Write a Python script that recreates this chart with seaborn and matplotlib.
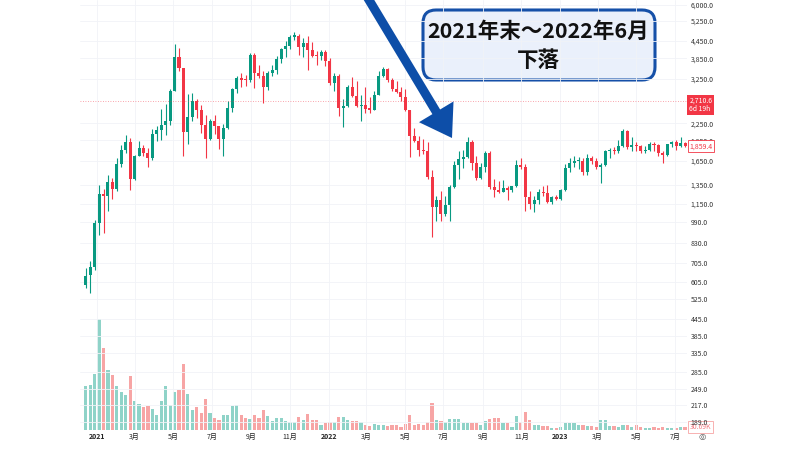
import numpy as np
import pandas as pd
import seaborn as sns
import matplotlib.pyplot as plt
import matplotlib.ticker as mticker
import matplotlib.transforms as mtransforms
from matplotlib.patches import FancyBboxPatch

# weekly candles, Dec 2020 - Jul 2023
weeks = pd.date_range('2020-12-14', periods=136, freq='7D')

opens = [590, 638, 682, 981, 1250, 1230, 1380, 1300, 1604, 1800,
         1930, 1420, 1720, 1830, 1760, 1680, 2050, 2120, 2210, 2300,
         2940, 3900, 3560, 2090, 2370, 2700, 2510, 2220, 1980, 2290,
         2200, 1968, 2170, 2550, 2985, 3270, 3240, 3222, 3963, 3410,
         3330, 3050, 3400, 3500, 3840, 4150, 4270, 4615, 4650, 4245,
         4365, 4120, 3930, 3920, 4050, 3770, 3150, 3330, 2550, 2600,
         3050, 2830, 2590, 2620, 2530, 2520, 2840, 3330, 3520, 3220,
         2980, 2920, 2800, 2510, 2020, 1940, 1800, 1790, 1440, 1122,
         1190, 1063, 1145, 1329, 1591, 1670, 1700, 1930, 1615, 1425,
         1560, 1760, 1329, 1290, 1275, 1310, 1290, 1340, 1590, 1570,
         1217, 1150, 1190, 1275, 1265, 1173, 1215, 1200, 1290, 1550,
         1620, 1640, 1650, 1500, 1680, 1640, 1565, 1590, 1780, 1800,
         1790, 1862, 2115, 1850, 1870, 1862, 1790, 1800, 1895, 1880,
         1755, 1730, 1895, 1930, 1862, 1915]
highs = [677, 715, 1010, 1350, 1300, 1470, 1430, 1690, 1870, 2040,
         1990, 1730, 1940, 1880, 1830, 2150, 2190, 2540, 2640, 2980,
         4340, 4200, 3570, 2870, 2890, 2760, 2620, 2410, 2330, 2410,
         2200, 2240, 2700, 3020, 3330, 3420, 3360, 4020, 4030, 3650,
         3460, 3480, 3650, 3920, 4200, 4460, 4660, 4810, 4700, 4550,
         4650, 4400, 4080, 4130, 4130, 3850, 3410, 3370, 2740, 3090,
         3290, 3200, 2840, 3050, 2800, 2950, 3480, 3580, 3560, 3270,
         3200, 3050, 2980, 2520, 2160, 2020, 1970, 1920, 1530, 1230,
         1280, 1230, 1350, 1650, 1790, 1800, 2010, 1960, 1720, 1620,
         1790, 1790, 1420, 1390, 1400, 1340, 1340, 1660, 1680, 1610,
         1280, 1230, 1300, 1340, 1350, 1230, 1240, 1300, 1600, 1680,
         1720, 1700, 1680, 1740, 1720, 1680, 1620, 1800, 1830, 1840,
         1950, 2140, 2130, 2010, 1930, 1880, 1860, 1930, 1920, 1900,
         1780, 1900, 1940, 1960, 2000, 1920]
lows = [575, 551, 665, 890, 905, 1090, 1200, 1280, 1560, 1760,
        1294, 1410, 1710, 1720, 1560, 1660, 1940, 1950, 2040, 2210,
        2930, 3480, 1720, 1900, 2300, 2340, 2080, 1690, 1960, 2060,
        1820, 1720, 2140, 2470, 2880, 3050, 3060, 3160, 3010, 3270,
        2670, 2960, 3330, 3380, 3700, 3900, 4150, 4500, 3950, 3910,
        3500, 3900, 3650, 3800, 3620, 3100, 2940, 2380, 2180, 2570,
        2800, 2570, 2300, 2450, 2450, 2500, 2840, 3300, 3170, 2950,
        2900, 2700, 2480, 1700, 1930, 1720, 1740, 1420, 878, 1000,
        1000, 1040, 1000, 1310, 1420, 1550, 1680, 1530, 1410, 1420,
        1500, 1300, 1220, 1260, 1270, 1190, 1270, 1330, 1540, 1090,
        1100, 1075, 1150, 1230, 1160, 1150, 1190, 1190, 1280, 1500,
        1560, 1540, 1460, 1470, 1600, 1540, 1370, 1580, 1680, 1740,
        1760, 1850, 1820, 1780, 1780, 1760, 1760, 1780, 1790, 1720,
        1620, 1720, 1840, 1800, 1850, 1850]
closes = [634, 682, 981, 1250, 1230, 1380, 1300, 1600, 1800, 1930,
          1420, 1720, 1830, 1760, 1680, 2050, 2120, 2210, 2300, 2940,
          3900, 3560, 2090, 2370, 2700, 2510, 2220, 1980, 2290, 2200,
          1968, 2170, 2550, 2985, 3270, 3220, 3220, 3963, 3410, 3330,
          3050, 3400, 3500, 3840, 4150, 4270, 4615, 4650, 4245, 4365,
          4120, 3930, 3920, 4050, 3770, 3150, 3330, 2550, 2600, 3050,
          2830, 2590, 2620, 2530, 2520, 2840, 3330, 3520, 3220, 2980,
          2920, 2800, 2510, 2020, 1940, 1800, 1790, 1440, 1122, 1190,
          1063, 1145, 1329, 1591, 1670, 1700, 1930, 1615, 1425, 1560,
          1760, 1329, 1290, 1275, 1310, 1290, 1340, 1590, 1570, 1217,
          1150, 1190, 1275, 1265, 1173, 1215, 1200, 1290, 1550, 1620,
          1640, 1650, 1500, 1680, 1640, 1565, 1590, 1780, 1800, 1790,
          1862, 2115, 1850, 1870, 1862, 1790, 1800, 1895, 1880, 1755,
          1730, 1895, 1930, 1862, 1915, 1859.4]
# volume in thousands
volumes_k = [440, 450, 560, 1110, 820, 600, 550, 440, 380, 350,
             540, 290, 260, 230, 240, 210, 150, 290, 440, 250,
             380, 400, 660, 360, 200, 230, 170, 310, 170, 120,
             100, 150, 150, 240, 250, 150, 120, 110, 150, 120,
             200, 140, 90, 120, 120, 90, 80, 80, 130, 100,
             160, 100, 100, 50, 70, 80, 80, 130, 130, 100,
             90, 90, 80, 50, 40, 60, 50, 50, 40, 50,
             50, 30, 60, 150, 50, 60, 50, 80, 270, 100,
             90, 80, 110, 110, 110, 70, 70, 70, 70, 50,
             90, 110, 120, 120, 70, 70, 30, 140, 80, 180,
             100, 50, 50, 40, 40, 20, 20, 30, 70, 70,
             70, 50, 50, 40, 40, 30, 100, 100, 40, 40,
             30, 50, 50, 30, 50, 30, 20, 20, 30, 20,
             30, 20, 20, 20, 30, 30.69]

price_ticks = [6000, 5250, 4450, 3850, 3250, 2250, 1950, 1650, 1350, 1150, 990,
               830, 705, 605, 525, 445, 385, 335, 285, 249, 217, 189]
month_dates = ['2021-01-01', '2021-03-01', '2021-05-01', '2021-07-01', '2021-09-01',
               '2021-11-01', '2022-01-01', '2022-03-01', '2022-05-01', '2022-07-01',
               '2022-09-01', '2022-11-01', '2023-01-01', '2023-03-01', '2023-05-01',
               '2023-07-01']
month_labels = ['2021', '3月', '5月', '7月', '9月', '11月', '2022', '3月', '5月', '7月',
                '9月', '11月', '2023', '3月', '5月', '7月']

ref_price = 2710.6
last_price = 1859.4
last_volume = 30.69
title_lines = ['2021年末～2022年6月', '下落']

UP = '#089981'
DOWN = '#f23645'

sns.set_theme(style='white')
plt.rcParams['font.family'] = ['Noto Sans CJK JP', 'DejaVu Sans']

df = pd.DataFrame({'week': weeks, 'open': opens, 'high': highs, 'low': lows,
                   'close': closes, 'volume': volumes_k})
df['x'] = np.arange(len(df))
df['dir'] = np.where(df['close'] >= df['open'], 'up', 'down')
colors = np.where(df['dir'] == 'up', UP, DOWN)

fig = plt.figure(figsize=(8, 4.5), dpi=100)
ax = fig.add_axes([80 / 800, 20 / 450, (687.3 - 80) / 800, 430 / 450])
axv = ax.twinx()
ax.set_zorder(axv.get_zorder() + 1)
ax.patch.set_visible(False)

# volume bars
sns.barplot(data=df, x='x', y='volume', hue='dir', native_scale=True, dodge=False,
            palette={'up': '#8fd3c8', 'down': '#f7a5a5'}, width=0.72, saturation=1,
            errorbar=None, legend=False, linewidth=0, ax=axv)
axv.set_ylim(0, 4300)
axv.set_yticks([])
axv.set_ylabel('')

# candles
ax.vlines(df['x'], df['low'], df['high'], colors=colors, lw=0.8)
bottom = np.minimum(df['open'], df['close'])
top = np.maximum(np.maximum(df['open'], df['close']), bottom * 1.009)
ax.bar(df['x'], top - bottom, bottom=bottom, width=0.68, color=colors, linewidth=0)

ax.set_yscale('log')
ax.set_ylim(176.6, 6250)
ax.set_xlim(-1.3, 135.5)
ax.yaxis.tick_right()
ax.set_yticks(price_ticks, labels=[f'{v:,.1f}' for v in price_ticks])
ax.yaxis.set_minor_locator(mticker.NullLocator())
ax.tick_params(axis='y', length=0, pad=2.5, labelsize=5, labelcolor='#333333')

xpos = (pd.to_datetime(month_dates) - weeks[0]).days / 7
ax.set_xticks(xpos, labels=month_labels)
ax.tick_params(axis='x', length=0, pad=2, labelsize=5, labelcolor='#222222')
for lab in ax.get_xticklabels():
    if lab.get_text().isdigit():
        lab.set_fontweight('bold')
ax.set_xlabel('')
axv.set_xlabel('')

ax.grid(True, color='#f1f3f7', lw=0.6)
ax.set_axisbelow(True)
for a in (ax, axv):
    for s in a.spines.values():
        s.set_visible(False)

# price lines and labels
ax.axhline(ref_price, color=DOWN, ls=(0, (1, 2)), lw=0.6, alpha=0.6)
tr = mtransforms.blended_transform_factory(ax.transAxes, ax.transData)
ax.annotate(f'{ref_price:,.1f}\n6d 19h', xy=(1, ref_price), xycoords=tr,
            xytext=(1.5, -3), textcoords='offset points', ha='left', va='center',
            fontsize=5, color='white', linespacing=1.1, annotation_clip=False,
            bbox=dict(boxstyle='square,pad=0.3', fc=DOWN, ec='none'))
ax.annotate(f'{last_price:,.1f}', xy=(1, last_price), xycoords=tr,
            xytext=(1.5, 0), textcoords='offset points', ha='left', va='center',
            fontsize=5, color=DOWN, annotation_clip=False,
            bbox=dict(boxstyle='square,pad=0.25', fc='white', ec=DOWN, lw=0.6))
trv = mtransforms.blended_transform_factory(axv.transAxes, axv.transData)
axv.annotate(f'{last_volume:.2f}K', xy=(1, last_volume), xycoords=trv,
             xytext=(1.5, 0), textcoords='offset points', ha='left', va='center',
             fontsize=5, color='#f07c84', annotation_clip=False,
             bbox=dict(boxstyle='square,pad=0.25', fc='white', ec='#f7a5a5', lw=0.6))
fig.text(702 / 800, 1 - 437 / 450, '◎', fontsize=6, color='#555555',
         ha='center', va='center', family='DejaVu Sans')

# callout box and arrow
box = FancyBboxPatch((4.23, 3.70), 2.32, 0.70, boxstyle='round,pad=0,rounding_size=0.13',
                     transform=fig.dpi_scale_trans, fc='#eaf0fb', ec='#1550a8', lw=2.2)
fig.add_artist(box)
fig.text(538 / 800, 1 - 31 / 450, title_lines[0], fontsize=15.5, fontweight='bold',
         ha='center', va='center', color='#111111')
fig.text(538 / 800, 1 - 60 / 450, title_lines[1], fontsize=15.5, fontweight='bold',
         ha='center', va='center', color='#111111')

ax.annotate('', xy=(452, 450 - 138), xycoords='figure pixels',
            xytext=(366, 455), textcoords='figure pixels', annotation_clip=False,
            arrowprops=dict(arrowstyle='simple,head_length=22,head_width=29,tail_width=6.5',
                            mutation_scale=1, fc='#0d4ea8', ec='none', shrinkA=0, shrinkB=0))

fig.savefig('out.png', dpi=100)
